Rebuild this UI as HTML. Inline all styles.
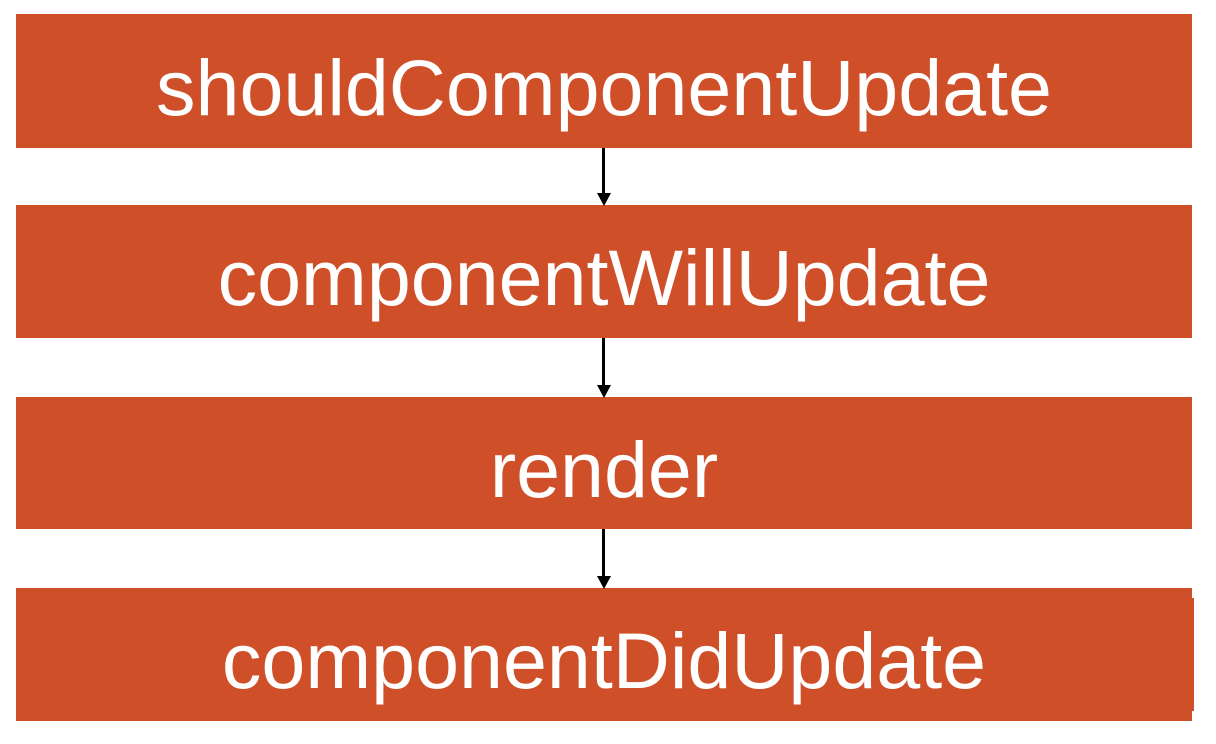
<!DOCTYPE html>
<html><head><style>
html,body{margin:0;padding:0;background:#fff;width:1216px;height:744px;overflow:hidden;position:relative;font-family:"Liberation Sans",Arial,sans-serif}
.b{position:absolute;left:16px;width:1176px;background:#cf4f29;color:#fff;font-size:79px;display:flex;align-items:center;justify-content:center;line-height:1;box-sizing:border-box;padding-top:12px}
.l{position:absolute;left:602px;width:3px;background:#000}
.h{position:absolute;left:597px;width:0;height:0;border-left:7px solid transparent;border-right:7px solid transparent;border-top:13px solid #000}
</style></head><body>
<div class="b" style="top:14px;height:134px">shouldComponentUpdate</div>
<div class="b" style="top:205px;height:133px">componentWillUpdate</div>
<div class="b" style="top:397px;height:132px">render</div>
<div class="b" style="top:588px;height:133px">componentDidUpdate</div>
<div style="position:absolute;left:1192px;top:598px;width:2px;height:113px;background:#cf4f29"></div>
<div class="l" style="top:148px;height:46px"></div><div class="h" style="top:193px"></div>
<div class="l" style="top:338px;height:48px"></div><div class="h" style="top:385px"></div>
<div class="l" style="top:529px;height:48px"></div><div class="h" style="top:576px"></div>
</body></html>
